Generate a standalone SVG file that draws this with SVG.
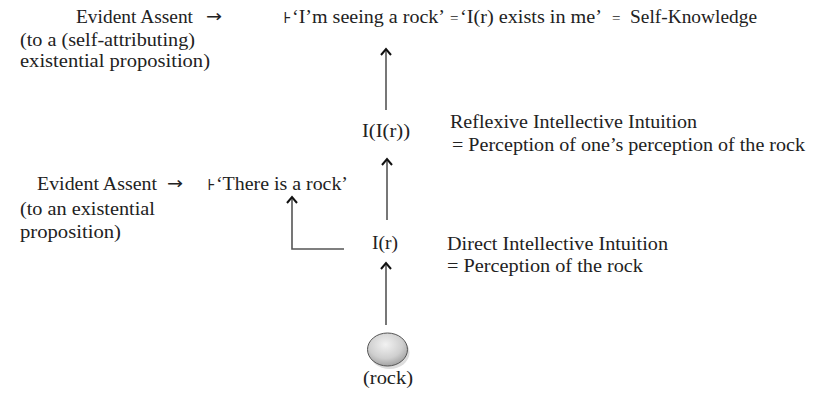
<svg xmlns="http://www.w3.org/2000/svg" width="822" height="394" viewBox="0 0 822 394">
<style>
text{font-family:"Liberation Serif","DejaVu Serif",serif;font-size:19px;fill:#222}
.sm{font-size:15px}
.ar{font-family:"DejaVu Sans",sans-serif;font-size:17px}
.c{stroke:#555;stroke-width:1.6;fill:none}
</style>
<defs>
<marker id="ah" viewBox="-8 -7 10 14" markerWidth="10" markerHeight="14" refX="0" refY="0" orient="auto" markerUnits="userSpaceOnUse">
<path d="M-6,-5 L0,0 L-6,5" fill="none" stroke="#111" stroke-width="2"/>
</marker>
<radialGradient id="rg" cx="0.45" cy="0.35" r="0.7">
<stop offset="0" stop-color="#f2f2f2"/>
<stop offset="0.6" stop-color="#cfcfcf"/>
<stop offset="1" stop-color="#9a9a9a"/>
</radialGradient>
</defs>
<rect width="822" height="394" fill="#fff"/>
<g id="connectors">
<path class="c" d="M386,110 V49" marker-end="url(#ah)"/>
<path class="c" d="M387,220 V159" marker-end="url(#ah)"/>
<path class="c" d="M386,325 V263" marker-end="url(#ah)"/>
<path class="c" d="M344,249 H292 V197" marker-end="url(#ah)"/>
</g>
<g id="self-knowledge">
<text x="76" y="23" textLength="117" lengthAdjust="spacingAndGlyphs">Evident Assent</text>
<text class="ar" x="206" y="22" textLength="16" lengthAdjust="spacingAndGlyphs">→</text>
<text x="20" y="46" textLength="175" lengthAdjust="spacingAndGlyphs">(to a (self-attributing)</text>
<text x="20" y="67" textLength="190" lengthAdjust="spacingAndGlyphs">existential proposition)</text>
<text class="sm" x="283" y="23">⊦</text>
<text x="292" y="23" textLength="153" lengthAdjust="spacingAndGlyphs">‘I’m seeing a rock’</text>
<text class="sm" x="450" y="23">=</text>
<text x="460" y="23" textLength="142" lengthAdjust="spacingAndGlyphs">‘I(r) exists in me’</text>
<text class="sm" x="612" y="23">=</text>
<text x="630" y="23" textLength="127" lengthAdjust="spacingAndGlyphs">Self-Knowledge</text>
</g>
<g id="reflexive">
<text x="362" y="137" textLength="48" lengthAdjust="spacingAndGlyphs">I(I(r))</text>
<text x="450" y="128" textLength="247" lengthAdjust="spacingAndGlyphs">Reflexive Intellective Intuition</text>
<text x="452" y="151" textLength="353" lengthAdjust="spacingAndGlyphs">= Perception of one’s perception of the rock</text>
</g>
<g id="existential">
<text x="37" y="190" textLength="120" lengthAdjust="spacingAndGlyphs">Evident Assent</text>
<text class="ar" x="167" y="189" textLength="16" lengthAdjust="spacingAndGlyphs">→</text>
<text class="sm" x="207" y="190">⊦</text>
<text x="216" y="190" textLength="132" lengthAdjust="spacingAndGlyphs">‘There is a rock’</text>
<text x="20" y="215" textLength="135" lengthAdjust="spacingAndGlyphs">(to an existential</text>
<text x="20" y="238" textLength="101" lengthAdjust="spacingAndGlyphs">proposition)</text>
</g>
<g id="direct">
<text x="372" y="249" textLength="26" lengthAdjust="spacingAndGlyphs">I(r)</text>
<text x="447" y="250" textLength="221" lengthAdjust="spacingAndGlyphs">Direct Intellective Intuition</text>
<text x="447" y="272" textLength="196" lengthAdjust="spacingAndGlyphs">= Perception of the rock</text>
</g>
<g id="rock">
<ellipse cx="388.5" cy="351" rx="20" ry="16.5" fill="#bbb" opacity="0.5" transform="translate(1,1.5)"/>
<ellipse cx="387.5" cy="349.5" rx="20" ry="16.5" fill="url(#rg)" stroke="#555" stroke-width="1"/>
<text x="388" y="384" text-anchor="middle" textLength="50" lengthAdjust="spacingAndGlyphs">(rock)</text>
</g>
</svg>
